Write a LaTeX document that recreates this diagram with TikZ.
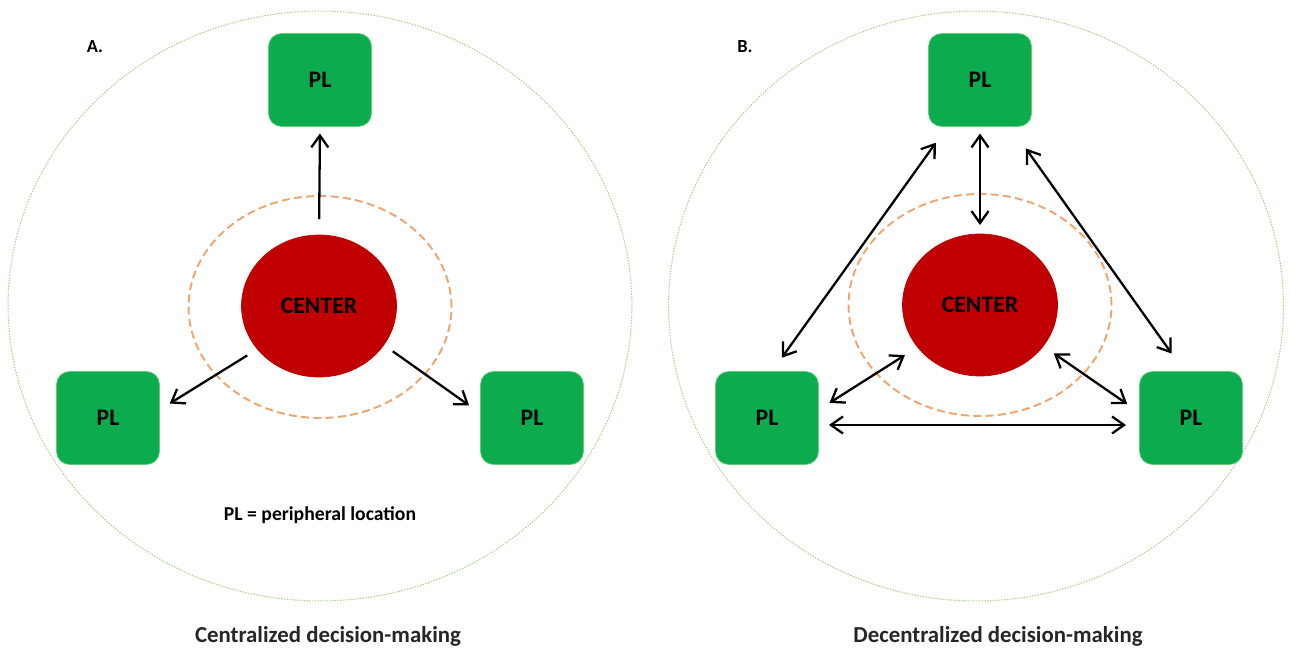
\documentclass[tikz,border=0pt]{standalone}
\usepackage{fontspec}
\setmainfont{Carlito}
\usepackage{xcolor}
\usepackage{tikz}
\usetikzlibrary{arrows.meta}
\usetikzlibrary{shapes.geometric}
\definecolor{pl_green}{RGB}{12,172,78}
\definecolor{pl_edge}{RGB}{95,208,125}
\definecolor{core_red}{RGB}{192,0,0}
\definecolor{ring_orange}{RGB}{240,165,110}
\definecolor{rim_green}{RGB}{170,208,135}
\tikzset{
    tnode/.style = {align=center, inner sep=0pt, outer sep=0pt, text centered},
    pl_node/.style = {tnode, rectangle, rounded corners=0.26cm, fill=pl_green, draw=pl_edge, thin, minimum width=2.06cm, minimum height=1.86cm, font=\fontsize{13.5}{15}\selectfont\bfseries},
    core_node/.style = {tnode, ellipse, fill=core_red, draw=core_red, minimum width=3.1cm, minimum height=2.84cm, font=\fontsize{13.5}{15}\selectfont\bfseries},
    ring_node/.style = {tnode, ellipse, draw=ring_orange, line width=1.1pt, dash pattern=on 4.5pt off 2.5pt, minimum width=5.26cm, minimum height=4.44cm},
    rim_node/.style = {tnode, ellipse, draw=rim_green, line width=0.6pt, dash pattern=on 0.8pt off 0.8pt},
    link/.style = {line width=1.3pt, >={Straight Barb[length=2.4mm, width=3.4mm]}},
    label_text/.style = {tnode, font=\fontsize{11.2}{13}\selectfont\bfseries},
    caption_text/.style = {tnode, text=black!85, font=\fontsize{13}{15}\selectfont\bfseries}
}

\begin{document}
\begin{tikzpicture}[x=0.02cm, y=-0.02cm]
    \useasboundingbox (0,0) rectangle (1290,651);

    % A. centralized
    \node [rim_node, minimum width=12.48cm, minimum height=11.8cm] (rim_A) at (320,306) {};
    \node [ring_node] (ring_A) at (320,307) {};
    \node [core_node] (core_A) at (319,306) {CENTER};
    \node [pl_node] (pl_A_top) at (320,80) {PL};
    \node [pl_node] (pl_A_left) at (108,418) {PL};
    \node [pl_node] (pl_A_right) at (532,418) {PL};
    \node [tnode, font=\fontsize{10.5}{12}\selectfont\bfseries] (tag_A) at (95,47) {A.};
    \node [label_text] (legend) at (320,515) {PL = peripheral location};
    \node [caption_text] (caption_A) at (328,636) {Centralized decision-making};

    \draw [link, ->, shorten <=0.32cm, shorten >=0.14cm] (core_A.north) -- (pl_A_top.south);
    \draw [link, ->, shorten <=0.24cm, shorten >=0.24cm] (core_A.215) -- (pl_A_left.9);
    \draw [link, ->, shorten <=0.22cm, shorten >=0.28cm] (core_A.-31) -- (pl_A_right.175);

    % B. decentralized
    \node [rim_node, minimum width=12.3cm, minimum height=11.8cm] (rim_B) at (976,306) {};
    \node [ring_node] (ring_B) at (980,305) {};
    \node [core_node] (core_B) at (980,305) {CENTER};
    \node [pl_node] (pl_B_top) at (980,80) {PL};
    \node [pl_node] (pl_B_left) at (767,418) {PL};
    \node [pl_node] (pl_B_right) at (1191,418) {PL};
    \node [tnode, font=\fontsize{10.5}{12}\selectfont\bfseries] (tag_B) at (745,47) {B.};
    \node [caption_text] (caption_B) at (998,636) {Decentralized decision-making};

    \draw [link, <->, shorten <=0.14cm, shorten >=0.18cm] (pl_B_top.south) -- (core_B.north);
    \draw [link, <->, shorten <=0.4cm, shorten >=0.34cm] (pl_B_top.235) -- (pl_B_left.84);
    \draw [link, <->, shorten <=0.54cm, shorten >=0.44cm] (pl_B_top.-57) -- (pl_B_right.98);
    \draw [link, <->, shorten <=0.26cm, shorten >=0.3cm] (pl_B_left.9) -- (core_B.214);
    \draw [link, <->, shorten <=0.26cm, shorten >=0.3cm] (core_B.-33) -- (pl_B_right.174);
    \draw [link, <->, shorten <=0.21cm, shorten >=0.27cm] ([yshift=-0.14cm]pl_B_left.east) -- ([yshift=-0.14cm]pl_B_right.west);
\end{tikzpicture}
\end{document}
